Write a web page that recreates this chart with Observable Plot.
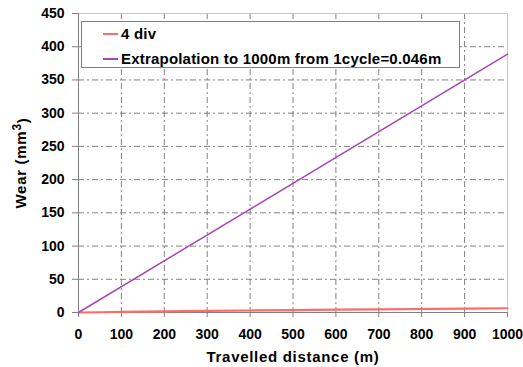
<!DOCTYPE html>
<html>
<head>
<meta charset="utf-8">
<script src="https://cdn.jsdelivr.net/npm/d3@7"></script>
<script src="https://cdn.jsdelivr.net/npm/@observablehq/plot@0.6"></script>
<style>
  html, body { margin: 0; padding: 0; background: #fff; }
  #chart { position: relative; width: 523px; height: 367px; font-family: "Liberation Sans", Arial, sans-serif; }
  .legend {
    position: absolute; left: 81px; top: 21px; width: 379px; height: 47px;
    background: #fff; border: 1px solid #808080; box-sizing: border-box;
    font-weight: bold; font-size: 15px; letter-spacing: 0.2px; color: #000; line-height: 16px;
  }
  .legend .row { position: absolute; left: 21px; display: flex; align-items: center; white-space: nowrap; }
  .legend .swatch { width: 15px; height: 0; border-top: 2px solid; margin-right: 3px; }
</style>
</head>
<body>
<div id="chart"></div>
<script>
// Travelled distance (m) and measured wear for the 4-division specimen
const distance = [0, 50, 100, 200, 300, 400, 500, 600, 700, 800, 900, 1000];
const wear4div = [0, 0.4, 0.9, 1.6, 2.4, 3.0, 3.6, 4.2, 4.7, 5.3, 5.9, 6.4];
// Linear extrapolation to 1000 m from one cycle of 0.046 m
const extrapDistance = [0, 1000];
const extrapWear = [0, 389];

const seriesNames = ["4 div", "Extrapolation to 1000m from 1cycle=0.046m"];
const seriesColors = ["#ff6a6a", "#a646b4"];
const xTicks = d3.range(0, 1001, 100);
const yTicks = d3.range(0, 451, 50);

const rows4 = distance.map((d, i) => ({x: d, y: wear4div[i]}));
const rowsE = extrapDistance.map((d, i) => ({x: d, y: extrapWear[i]}));

const plot = Plot.plot({
  width: 523,
  height: 367,
  marginLeft: 78,
  marginRight: 16,
  marginTop: 13,
  marginBottom: 55,
  style: {fontFamily: "'Liberation Sans', Arial, sans-serif", fontSize: "14px", fontWeight: "bold", color: "#000", background: "#fff"},
  x: {domain: [0, 1000]},
  y: {domain: [0, 450]},
  marks: [
    Plot.gridX(xTicks.filter(t => t > 0 && t < 1000), {stroke: "#808080", strokeOpacity: 1, strokeDasharray: "6,3,2,3"}),
    Plot.gridY(yTicks.filter(t => t > 0 && t < 450), {stroke: "#808080", strokeOpacity: 1, strokeDasharray: "6,3,2,3"}),
    Plot.frame({stroke: "#c8c8c8"}),
    Plot.ruleX([0], {stroke: "#808080"}),
    Plot.ruleY([0], {stroke: "#808080"}),
    Plot.axisX({ticks: xTicks, tickFormat: d => String(d), tickSize: 5, tickPadding: 12, stroke: "#808080", fontSize: 14,
      label: "Travelled distance (m)", labelAnchor: "center", labelArrow: "none", labelOffset: 49}),
    Plot.axisY({ticks: yTicks, tickFormat: d => String(d), tickSize: 6, tickPadding: 8, stroke: "#808080", fontSize: 14,
      label: "Wear (mm3)", labelAnchor: "center", labelArrow: "none", labelOffset: 63}),
    Plot.line(rows4, {x: "x", y: "y", stroke: seriesColors[0], strokeWidth: 2.2}),
    Plot.line(rowsE, {x: "x", y: "y", stroke: seriesColors[1], strokeWidth: 1.5})
  ]
});

// axis titles: larger, slightly spaced, with a superscript cube on the y unit
plot.querySelectorAll("[aria-label='x-axis label'] text, [aria-label='y-axis label'] text").forEach(t => {
  t.style.fontSize = "15px";
  t.style.letterSpacing = "0.7px";
});
const yTitle = plot.querySelector("[aria-label='y-axis label'] text");
if (yTitle) {
  yTitle.textContent = "";
  const ns = "http://www.w3.org/2000/svg";
  const a = document.createElementNS(ns, "tspan"); a.textContent = "Wear (mm";
  const b = document.createElementNS(ns, "tspan"); b.textContent = "3"; b.setAttribute("dy", "-0.45em"); b.style.fontSize = "12px";
  const c = document.createElementNS(ns, "tspan"); c.textContent = ")"; c.setAttribute("dy", "0.45em");
  yTitle.append(a, b, c);
}

const chart = document.getElementById("chart");
chart.appendChild(plot);

const legend = document.createElement("div");
legend.className = "legend";
seriesNames.forEach((name, i) => {
  const row = document.createElement("div");
  row.className = "row";
  row.style.top = (i === 0 ? 4 : 29) + "px";
  const sw = document.createElement("span");
  sw.className = "swatch";
  sw.style.borderColor = seriesColors[i];
  const label = document.createElement("span");
  label.textContent = name;
  row.appendChild(sw);
  row.appendChild(label);
  legend.appendChild(row);
});
chart.appendChild(legend);
</script>
</body>
</html>
